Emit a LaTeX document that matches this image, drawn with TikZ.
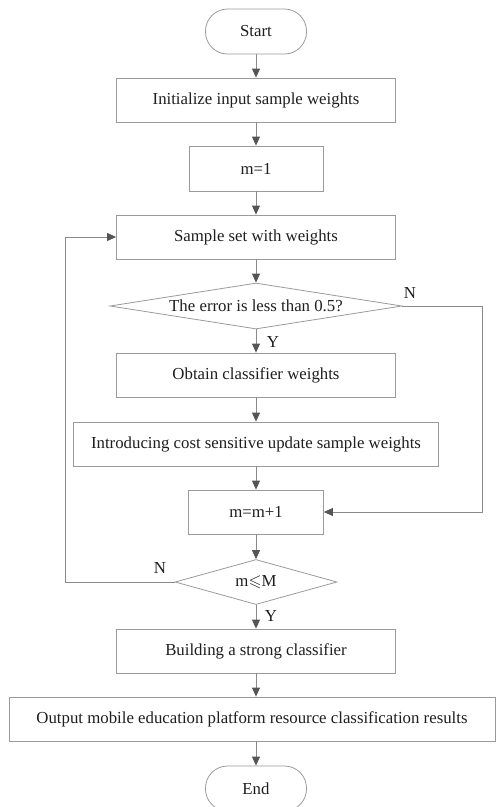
\documentclass[tikz,border=0pt]{standalone}
\usepackage{amssymb}
\usepackage{fontspec}
\setmainfont{Liberation Serif}
\usetikzlibrary{arrows.meta,shapes.geometric}
\definecolor{boxc}{HTML}{9A9A9A}
\definecolor{linec}{HTML}{8A8A8A}
\definecolor{tipc}{HTML}{555555}
\definecolor{txtc}{HTML}{1E1E1E}
\begin{document}
\begin{tikzpicture}[x=1pt,y=-1pt,
  font=\fontsize{16.8pt}{19pt}\selectfont, text=txtc,
  box/.style={draw=boxc, line width=0.8pt, rectangle, inner sep=0pt, minimum height=44pt},
  term/.style={draw=boxc, line width=0.8pt, rectangle, rounded corners=22pt, inner sep=0pt, minimum width=101pt, minimum height=45pt},
  dec/.style={draw=boxc, line width=0.8pt, diamond, inner sep=0pt},
  conn/.style={draw=linec, line width=0.8pt, -{Triangle[width=8pt,length=9pt,color=tipc]}},
  lbl/.style={inner sep=0pt}]
\useasboundingbox (0,0) rectangle (496,807);
\node[term] (start) at (256,31.5) {Start};
\node[box, minimum width=279pt] (init) at (256,100) {Initialize input sample weights};
\node[box, minimum width=134pt, minimum height=45pt] (m1) at (256,168.5) {m=1};
\node[box, minimum width=279pt] (sample) at (256,237) {Sample set with weights};
\node[dec, minimum width=292pt, minimum height=46pt] (d1) at (256,306) {};
\node[lbl] (d1t) at (256,306) {The error is less than 0.5?};
\node[box, minimum width=279pt] (obtain) at (256,375) {Obtain classifier weights};
\node[box, minimum width=365pt] (intro) at (256,444) {Introducing cost sensitive update sample weights};
\node[box, minimum width=135pt] (mm1) at (256,512) {m=m+1};
\node[dec, minimum width=162pt, minimum height=45pt] (d2) at (256,582) {};
\node[lbl] (d2t) at (256,582) {m$\leqslant$M};
\node[box, minimum width=279pt] (build) at (256,651) {Building a strong classifier};
\node[box, minimum width=486pt] (output) at (252,719) {Output mobile education platform resource classification results};
\node[term] (end) at (256,788.5) {End};

\coordinate (r1) at (482,306);
\coordinate (r2) at (482,512);
\coordinate (l1) at (65,582);
\coordinate (l2) at (65,237);

\draw[conn] (start) -- (init);
\draw[conn] (init) -- (m1);
\draw[conn] (m1) -- (sample);
\draw[conn] (sample) -- (d1);
\draw[conn] (d1) -- (obtain);
\draw[conn] (obtain) -- (intro);
\draw[conn] (intro) -- (mm1);
\draw[conn] (mm1) -- (d2);
\draw[conn] (d2) -- (build);
\draw[conn] (build.south) -- (build.south |- output.north);
\draw[conn] (end.north |- output.south) -- (end.north);
\draw[conn] (d1.east) -- (r1) -- (r2) -- (mm1.east);
\draw[conn] (d2.west) -- (l1) -- (l2) -- (sample.west);

\node[lbl] (y1) at (273,342) {Y};
\node[lbl] (n1) at (410,293) {N};
\node[lbl] (n2) at (160,568) {N};
\node[lbl] (y2) at (271,616) {Y};
\end{tikzpicture}
\end{document}
